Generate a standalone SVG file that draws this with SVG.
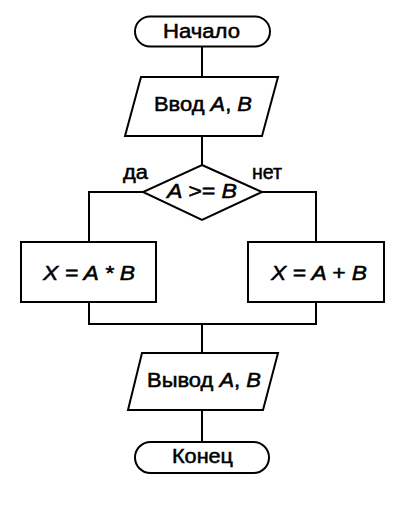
<svg xmlns="http://www.w3.org/2000/svg" width="406" height="506" viewBox="0 0 406 506">
<style>
.s{fill:#fff;stroke:#000;stroke-width:2;}
.c{fill:none;stroke:#000;stroke-width:2;}
text{font-family:"Liberation Sans",Arial,sans-serif;font-size:19.5px;fill:#000;stroke:#000;stroke-width:0.5;}
.i{font-style:italic;}
</style>
<rect width="406" height="506" fill="#fff"/>
<g id="connectors">
<path class="c" d="M202 46V77M202 136V165M143 192H89V242M262 192H316V242M89 302V324H316V302M202 324V353M202 410V442"/>
</g>
<g id="start">
<rect class="s" x="135" y="16.5" width="135" height="30" rx="15"/>
<text x="163" y="38" textLength="77" lengthAdjust="spacingAndGlyphs">Начало</text>
</g>
<g id="input">
<polygon class="s" points="141,77 278,77 262,136 125,136"/>
<text x="154" y="111" textLength="98" lengthAdjust="spacingAndGlyphs">Ввод <tspan class="i">A</tspan>, <tspan class="i">B</tspan></text>
</g>
<g id="decision">
<polygon class="s" points="202,165 262,192 202,220 143,192"/>
<text class="i" x="167" y="198" textLength="70" lengthAdjust="spacingAndGlyphs">A &gt;= B</text>
<text x="123" y="179" textLength="25" lengthAdjust="spacingAndGlyphs">да</text>
<text x="252" y="179" textLength="30" lengthAdjust="spacingAndGlyphs">нет</text>
</g>
<g id="mul">
<rect class="s" x="21" y="242" width="135" height="60"/>
<text class="i" x="43" y="280" textLength="92" lengthAdjust="spacingAndGlyphs">X = A * B</text>
</g>
<g id="add">
<rect class="s" x="248" y="242" width="136" height="60"/>
<text class="i" x="271" y="280" textLength="96" lengthAdjust="spacingAndGlyphs">X = A + B</text>
</g>
<g id="output">
<polygon class="s" points="142,353 278,353 263,410 128,410"/>
<text x="147" y="387" textLength="114" lengthAdjust="spacingAndGlyphs">Вывод <tspan class="i">A</tspan>, <tspan class="i">B</tspan></text>
</g>
<g id="end">
<rect class="s" x="135" y="442" width="134" height="31" rx="15.5"/>
<text x="172" y="463" textLength="61" lengthAdjust="spacingAndGlyphs">Конец</text>
</g>
</svg>
